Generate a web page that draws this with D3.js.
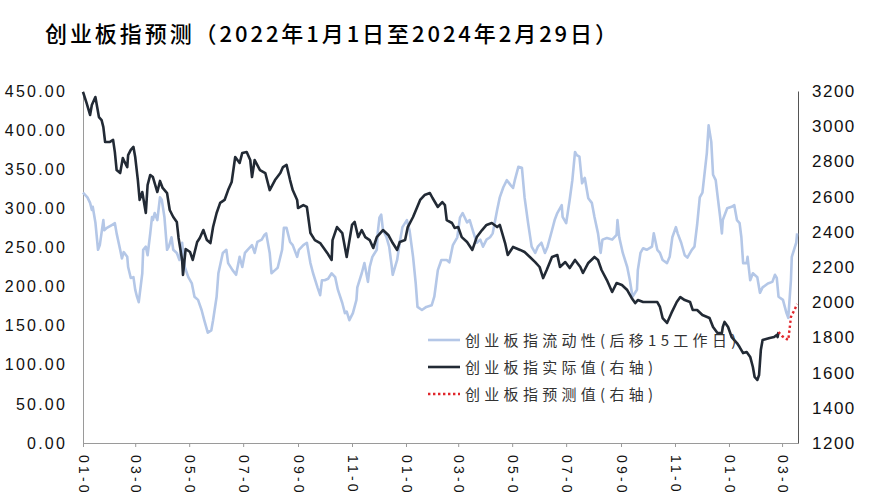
<!DOCTYPE html>
<html><head><meta charset="utf-8">
<script src="https://cdn.jsdelivr.net/npm/d3@7"></script>
<style>body{margin:0;background:#fff;} svg{display:block}</style>
</head><body><svg id="c" width="870" height="492"></svg>
<script>
const titleText = "创业板指预测（2022年1月1日至2024年2月29日）";
const seriesNames = ["创业板指流动性(后移15工作日)", "创业板指实际值(右轴)", "创业板指预测值(右轴)"];

const liqDates = ["2022-01-04","2022-01-09","2022-01-12","2022-01-14","2022-01-15","2022-01-18","2022-01-21","2022-01-23","2022-01-27","2022-01-28","2022-01-31","2022-02-06","2022-02-09","2022-02-11","2022-02-15","2022-02-17","2022-02-19","2022-02-23","2022-02-24","2022-02-27","2022-03-02","2022-03-04","2022-03-06","2022-03-08","2022-03-12","2022-03-13","2022-03-16","2022-03-18","2022-03-21","2022-03-23","2022-03-24","2022-03-26","2022-03-29","2022-04-01","2022-04-03","2022-04-06","2022-04-09","2022-04-11","2022-04-14","2022-04-16","2022-04-20","2022-04-23","2022-04-26","2022-04-29","2022-05-03","2022-05-07","2022-05-10","2022-05-14","2022-05-18","2022-05-21","2022-05-25","2022-05-29","2022-05-31","2022-06-04","2022-06-06","2022-06-11","2022-06-15","2022-06-17","2022-06-22","2022-06-26","2022-06-30","2022-07-03","2022-07-06","2022-07-09","2022-07-14","2022-07-17","2022-07-20","2022-07-25","2022-07-28","2022-07-30","2022-08-03","2022-08-05","2022-08-09","2022-08-12","2022-08-17","2022-08-19","2022-08-22","2022-08-26","2022-08-29","2022-09-03","2022-09-05","2022-09-10","2022-09-14","2022-09-18","2022-09-21","2022-09-26","2022-09-29","2022-10-01","2022-10-04","2022-10-08","2022-10-12","2022-10-16","2022-10-19","2022-10-24","2022-10-27","2022-10-29","2022-11-01","2022-11-05","2022-11-09","2022-11-10","2022-11-15","2022-11-18","2022-11-22","2022-11-24","2022-11-27","2022-12-02","2022-12-03","2022-12-05","2022-12-07","2022-12-09","2022-12-13","2022-12-16","2022-12-19","2022-12-20","2022-12-25","2022-12-28","2022-12-31","2023-01-05","2023-01-08","2023-01-12","2023-01-15","2023-01-17","2023-01-22","2023-01-27","2023-02-02","2023-02-05","2023-02-09","2023-02-13","2023-02-19","2023-02-22","2023-02-26","2023-03-03","2023-03-06","2023-03-09","2023-03-14","2023-03-17","2023-03-21","2023-03-25","2023-03-29","2023-04-01","2023-04-05","2023-04-09","2023-04-12","2023-04-17","2023-04-20","2023-04-24","2023-04-28","2023-05-02","2023-05-05","2023-05-07","2023-05-11","2023-05-15","2023-05-18","2023-05-22","2023-05-26","2023-05-30","2023-06-02","2023-06-06","2023-06-10","2023-06-13","2023-06-18","2023-06-21","2023-06-24","2023-06-29","2023-06-30","2023-07-04","2023-07-08","2023-07-11","2023-07-14","2023-07-16","2023-07-19","2023-07-22","2023-07-25","2023-07-29","2023-08-02","2023-08-05","2023-08-09","2023-08-12","2023-08-14","2023-08-19","2023-08-25","2023-08-30","2023-08-31","2023-09-02","2023-09-06","2023-09-11","2023-09-14","2023-09-17","2023-09-22","2023-09-23","2023-09-26","2023-09-29","2023-10-03","2023-10-09","2023-10-11","2023-10-15","2023-10-18","2023-10-21","2023-10-26","2023-10-29","2023-11-01","2023-11-05","2023-11-07","2023-11-11","2023-11-15","2023-11-18","2023-11-23","2023-11-26","2023-11-29","2023-12-02","2023-12-05","2023-12-10","2023-12-12","2023-12-15","2023-12-17","2023-12-20","2023-12-22","2023-12-25","2023-12-27","2023-12-28","2024-01-02","2024-01-07","2024-01-10","2024-01-13","2024-01-16","2024-01-18","2024-01-20","2024-01-24","2024-01-25","2024-01-28","2024-01-31","2024-02-05","2024-02-08","2024-02-11","2024-02-17","2024-02-22","2024-02-25","2024-02-27","2024-02-29","2024-03-05","2024-03-09","2024-03-11","2024-03-14","2024-03-15","2024-03-20","2024-03-21"];
const liqValues = [320,314,307,298,302,282,247,253,285,272,275,279,281,268,247,236,244,238,225,211,212,196,187,180,217,247,251,240,268,289,285,294,285,314,311,289,247,251,263,247,243,234,256,225,212,204,187,183,170,157,141,144,157,187,217,243,247,230,221,215,238,225,243,247,253,243,257,260,266,268,243,217,221,224,247,275,275,257,253,238,247,253,256,230,217,199,189,208,208,210,217,212,196,179,166,168,157,166,183,199,217,230,206,225,238,247,268,288,292,272,263,251,225,215,234,257,276,285,272,238,204,174,170,174,176,187,221,234,234,231,253,263,288,294,282,285,270,256,260,251,260,263,268,298,314,327,336,330,326,336,353,352,314,281,251,243,251,256,243,251,272,285,294,304,289,281,311,336,372,368,366,332,339,313,307,289,268,243,260,262,260,266,285,263,243,225,208,187,196,221,243,249,247,251,268,247,243,234,230,238,263,276,268,256,240,237,247,251,279,314,320,371,406,385,343,336,317,289,268,285,300,302,304,285,281,263,230,230,238,208,217,212,192,199,204,206,215,211,187,183,166,160,208,238,256,268];

const actDates = ["2022-01-04","2022-01-08","2022-01-12","2022-01-14","2022-01-18","2022-01-20","2022-01-22","2022-01-25","2022-01-27","2022-01-29","2022-02-03","2022-02-07","2022-02-09","2022-02-11","2022-02-15","2022-02-18","2022-02-20","2022-02-23","2022-02-24","2022-02-27","2022-03-02","2022-03-04","2022-03-07","2022-03-09","2022-03-12","2022-03-16","2022-03-18","2022-03-21","2022-03-24","2022-03-29","2022-04-01","2022-04-04","2022-04-09","2022-04-12","2022-04-16","2022-04-20","2022-04-22","2022-04-26","2022-04-27","2022-04-30","2022-05-05","2022-05-08","2022-05-13","2022-05-16","2022-05-20","2022-05-24","2022-05-28","2022-05-31","2022-06-04","2022-06-08","2022-06-13","2022-06-17","2022-06-21","2022-06-25","2022-06-30","2022-07-03","2022-07-08","2022-07-12","2022-07-14","2022-07-17","2022-07-23","2022-07-29","2022-08-03","2022-08-09","2022-08-15","2022-08-18","2022-08-22","2022-08-26","2022-08-29","2022-09-03","2022-09-04","2022-09-10","2022-09-14","2022-09-18","2022-09-23","2022-09-29","2022-10-07","2022-10-12","2022-10-13","2022-10-18","2022-10-24","2022-10-29","2022-11-04","2022-11-07","2022-11-11","2022-11-15","2022-11-19","2022-11-24","2022-11-28","2022-12-02","2022-12-09","2022-12-15","2022-12-20","2022-12-25","2022-12-28","2023-01-03","2023-01-06","2023-01-12","2023-01-20","2023-01-25","2023-01-31","2023-02-03","2023-02-09","2023-02-14","2023-02-17","2023-02-19","2023-02-25","2023-02-28","2023-03-04","2023-03-08","2023-03-14","2023-03-20","2023-03-25","2023-03-31","2023-04-05","2023-04-11","2023-04-17","2023-04-20","2023-04-26","2023-04-29","2023-05-05","2023-05-13","2023-05-18","2023-05-24","2023-05-30","2023-06-04","2023-06-08","2023-06-12","2023-06-18","2023-06-24","2023-06-27","2023-07-03","2023-07-08","2023-07-14","2023-07-20","2023-07-23","2023-07-29","2023-08-05","2023-08-09","2023-08-13","2023-08-19","2023-08-25","2023-08-30","2023-09-05","2023-09-11","2023-09-16","2023-09-20","2023-09-23","2023-09-29","2023-10-07","2023-10-15","2023-10-18","2023-10-21","2023-10-26","2023-10-31","2023-11-06","2023-11-10","2023-11-15","2023-11-21","2023-11-24","2023-11-29","2023-12-05","2023-12-13","2023-12-17","2023-12-22","2023-12-27","2023-12-28","2023-12-30","2024-01-03","2024-01-07","2024-01-13","2024-01-16","2024-01-20","2024-01-24","2024-01-28","2024-01-31","2024-02-02","2024-02-05","2024-02-07","2024-02-09","2024-02-11","2024-02-19","2024-02-24","2024-02-27","2024-02-28","2024-02-29"];
const actValues = [3195,3132,3064,3120,3166,3109,3052,3035,2995,2910,2910,2922,2853,2751,2734,2819,2797,2768,2836,2865,2882,2825,2694,2581,2626,2507,2666,2723,2711,2626,2689,2649,2620,2524,2484,2456,2365,2240,2155,2302,2285,2240,2342,2365,2410,2353,2336,2427,2507,2564,2581,2637,2683,2825,2791,2848,2853,2808,2711,2808,2751,2734,2637,2694,2734,2768,2780,2694,2637,2581,2535,2552,2541,2393,2353,2336,2280,2240,2353,2427,2393,2257,2439,2456,2370,2410,2370,2353,2308,2370,2410,2382,2336,2297,2342,2353,2427,2484,2581,2609,2620,2592,2541,2569,2552,2467,2450,2422,2427,2370,2342,2297,2370,2410,2439,2450,2427,2439,2336,2268,2314,2297,2285,2257,2228,2200,2137,2183,2257,2268,2200,2228,2194,2240,2200,2166,2223,2257,2240,2183,2126,2058,2109,2098,2069,2024,1995,2012,2001,2001,2001,1973,1910,1882,1939,2001,2029,2012,2001,1956,1956,1927,1910,1859,1825,1825,1859,1888,1859,1802,1768,1745,1711,1717,1689,1632,1575,1558,1586,1728,1785,1797,1802,1814,1802,1831];

const predDates = ["2024-02-29","2024-03-04","2024-03-07","2024-03-11","2024-03-13","2024-03-14","2024-03-18","2024-03-21"];
const predValues = [1831,1808,1797,1785,1870,1916,1956,1990];

const leftTicks = [0,50,100,150,200,250,300,350,400,450];
const rightTicks = [1200,1400,1600,1800,2000,2200,2400,2600,2800,3000,3200];
const xTickDates = ["2022-01-04","2022-03-04","2022-05-04","2022-07-04","2022-09-04","2022-11-04","2023-01-04","2023-03-04","2023-05-04","2023-07-04","2023-09-04","2023-11-04","2024-01-04","2024-03-04"];
const xStart = "2022-01-04", xEnd = "2024-03-22";

const parse = d3.timeParse("%Y-%m-%d");
const svg = d3.select("#c");
const L = 83, R = 798, T = 91, B = 443;
const CJK = "'Noto Sans CJK SC', sans-serif";
const NUM = "'Liberation Sans', Arial, sans-serif";

const x = d3.scaleTime().domain([parse(xStart), parse(xEnd)]).range([L, R]);
const yL = d3.scaleLinear().domain([0, 450]).range([B, T]);
const yR = d3.scaleLinear().domain([1200, 3200]).range([B, T]);

// title
svg.append("text").attr("x", 45).attr("y", 42)
  .attr("font-family", CJK).attr("font-size", 22).attr("font-weight", 500).attr("fill", "#000")
  .attr("textLength", 572).attr("lengthAdjust", "spacing")
  .text(titleText);

// axes
const gx = svg.append("g").attr("transform", `translate(0,${B})`)
  .call(d3.axisBottom(x).tickValues(xTickDates.map(parse)).tickFormat(d3.timeFormat("%m-%d")).tickSize(4).tickSizeOuter(0));
gx.select(".domain").attr("stroke", "#9a9a9a");
gx.selectAll(".tick line").attr("stroke", "#9a9a9a");
gx.selectAll(".tick text")
  .attr("font-family", NUM).attr("font-size", 14).attr("fill", "#111")
  .attr("transform", "rotate(90)").attr("text-anchor", "start")
  .attr("x", 12).attr("y", 0).attr("dy", "0.35em").attr("letter-spacing", 3.2);

const gl = svg.append("g").attr("transform", `translate(${L},0)`)
  .call(d3.axisLeft(yL).tickValues(leftTicks).tickFormat(d3.format(".2f")).tickSize(0).tickPadding(16));
gl.select(".domain").attr("stroke", "#9a9a9a");
gl.selectAll(".tick text").attr("font-family", NUM).attr("font-size", 16).attr("fill", "#111").attr("letter-spacing", 2.2);

const gr = svg.append("g").attr("transform", `translate(${R},0)`)
  .call(d3.axisRight(yR).tickValues(rightTicks).tickFormat(d3.format("d")).tickSize(0).tickPadding(14));
gr.select(".domain").attr("stroke", "#555");
gr.selectAll(".tick text").attr("font-family", NUM).attr("font-size", 17).attr("fill", "#111").attr("letter-spacing", 1.5);

// lines
const liq = liqDates.map((d, i) => [parse(d), liqValues[i]]);
const act = actDates.map((d, i) => [parse(d), actValues[i]]);
const pred = predDates.map((d, i) => [parse(d), predValues[i]]);
const lineL = d3.line().x(d => x(d[0])).y(d => yL(d[1]));
const lineR = d3.line().x(d => x(d[0])).y(d => yR(d[1]));

svg.append("path").datum(liq).attr("d", lineL).attr("fill", "none")
  .attr("stroke", "#B4C7E7").attr("stroke-width", 2.6).attr("stroke-linejoin", "round");
svg.append("path").datum(act).attr("d", lineR).attr("fill", "none")
  .attr("stroke", "#222A35").attr("stroke-width", 2.6).attr("stroke-linejoin", "round");
svg.append("path").datum(pred).attr("d", lineR).attr("fill", "none")
  .attr("stroke", "#E0262B").attr("stroke-width", 2.4).attr("stroke-dasharray", "2.4,2.6");

// legend
const legendStyles = [
  {color: "#B4C7E7", dash: null},
  {color: "#222A35", dash: null},
  {color: "#E0262B", dash: "2.4,2.6"}
];
const lg = svg.append("g");
seriesNames.forEach((name, i) => {
  const yy = 340 + i * 27;
  const ln = lg.append("line").attr("x1", 428).attr("x2", 460).attr("y1", yy).attr("y2", yy)
    .attr("stroke", legendStyles[i].color).attr("stroke-width", 2.6);
  if (legendStyles[i].dash) ln.attr("stroke-dasharray", legendStyles[i].dash);
  lg.append("text").attr("x", 465).attr("y", yy + 5.5)
    .attr("font-family", CJK).attr("font-size", 15).attr("fill", "#333")
    .attr("letter-spacing", 4.3).text(name);
});
</script>
</body></html>
